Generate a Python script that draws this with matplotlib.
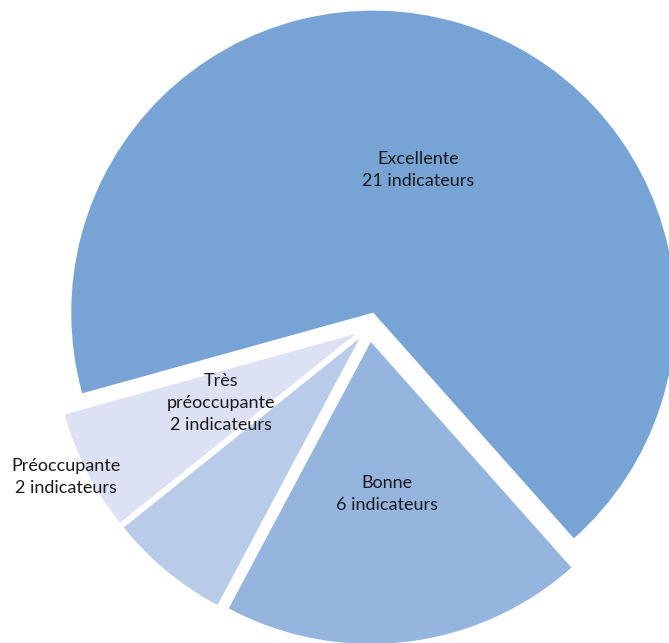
import matplotlib.pyplot as plt

labels = ["Excellente", "Bonne", "Préoccupante", "Très préoccupante"]
counts = [21, 6, 2, 2]
colors = ["#78A4D5", "#95B5DF", "#B8CBE9", "#DCE2F3"]

# label text and where it sits (pixel coords, y from top)
label_texts = [
    "Excellente\n21 indicateurs",
    "Bonne\n6 indicateurs",
    "Préoccupante\n2 indicateurs",
    "Très\npréoccupante\n2 indicateurs",
]
label_pos = [(418, 170), (387, 494), (66, 477), (221, 403)]

W, H = 669, 643
fig = plt.figure(figsize=(W / 100, H / 100), dpi=100)
ax = fig.add_axes([0, 0, 1, 1])

# explode is an absolute offset here (radius is in pixels)
ax.pie(counts, colors=colors, startangle=195.5, counterclock=False,
       explode=[15] * 4, radius=302, center=(369, H - 327),
       wedgeprops=dict(linewidth=0))

for txt, (x, y) in zip(label_texts, label_pos):
    ax.text(x, H - y, txt, ha="center", va="center", fontsize=13,
            family="Lato", color="#1a1a1a", linespacing=1.5)

ax.set_xlim(0, W)
ax.set_ylim(0, H)
ax.set_aspect("equal")
ax.axis("off")

plt.savefig("out.png", dpi=100)
plt.close()
